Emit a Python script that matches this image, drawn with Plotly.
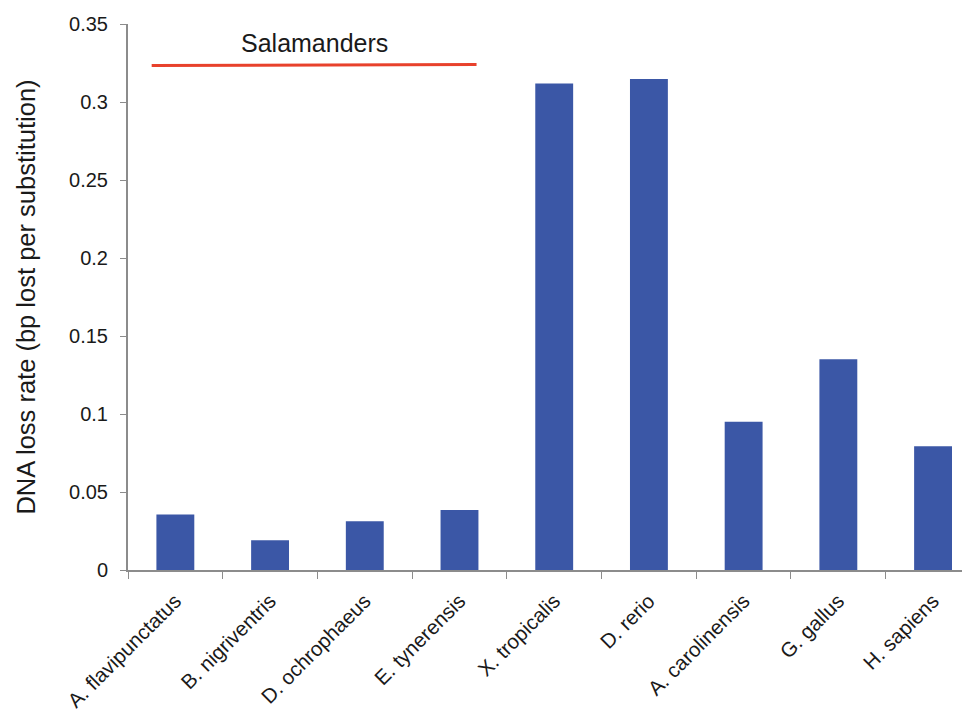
import plotly.graph_objects as go

species = ["A. flavipunctatus", "B. nigriventris", "D. ochrophaeus", "E. tynerensis",
           "X. tropicalis", "D. rerio", "A. carolinensis", "G. gallus", "H. sapiens"]
loss_rate = [0.0356, 0.0191, 0.0313, 0.0385, 0.3119, 0.3147, 0.0951, 0.1351, 0.0793]
y_ticks = [0, 0.05, 0.1, 0.15, 0.2, 0.25, 0.3, 0.35]
y_tick_labels = ["0", "0.05", "0.1", "0.15", "0.2", "0.25", "0.3", "0.35"]
group_label = "Salamanders"
group_span = (-0.25, 3.18)
group_level = 0.3237

axis_col = "#8c8c8c"
font_family = "Liberation Sans, Arial, sans-serif"

fig = go.Figure()
fig.add_trace(go.Bar(
    x=species, y=loss_rate, marker=dict(color="#3B57A6", line=dict(width=0)),
    width=0.4, showlegend=False,
))

fig.add_shape(type="line", xref="x", yref="y",
              x0=group_span[0], x1=group_span[1], y0=group_level - 0.0003, y1=group_level + 0.0003,
              line=dict(color="#E8412C", width=3))
fig.add_annotation(x=(group_span[0] + group_span[1]) / 2, y=group_level, xref="x", yref="y",
                   text=group_label, showarrow=False, yshift=22,
                   font=dict(size=25, color="#1a1a1a", family=font_family))

fig.update_layout(
    width=962, height=705,
    margin=dict(l=120, r=0, t=16, b=143, autoexpand=False),
    plot_bgcolor="white", paper_bgcolor="white",
    font=dict(family=font_family, color="#1a1a1a"),
    bargap=0.6,
)
fig.update_xaxes(
    range=[-0.5, 8.39], showline=True, linecolor=axis_col, linewidth=2,
    ticks="outside", tickson="boundaries", ticklen=7, tickcolor=axis_col, tickwidth=1,
    tickangle=-45, tickfont=dict(size=20.5, color="#1a1a1a"), showgrid=False,
    ticklabelstandoff=9, automargin=False,
)
fig.update_yaxes(
    range=[0, 0.35], tickvals=y_ticks, ticktext=y_tick_labels,
    showline=True, linecolor=axis_col, linewidth=2,
    ticks="outside", ticklen=6, tickcolor=axis_col, tickwidth=1,
    tickfont=dict(size=20, color="#1a1a1a"), showgrid=False, zeroline=False,
    ticklabelstandoff=8, automargin=False,
    title=dict(text="DNA loss rate (bp lost per substitution)", font=dict(size=25.5, color="#1a1a1a"), standoff=26),
)

fig.write_html("out.html")
